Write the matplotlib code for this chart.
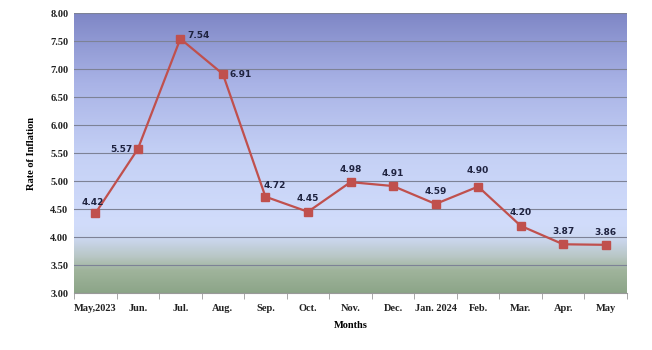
import numpy as np
import matplotlib.pyplot as plt
from matplotlib.colors import LinearSegmentedColormap

months = ['May,2023', 'Jun.', 'Jul.', 'Aug.', 'Sep.', 'Oct.', 'Nov.', 'Dec.',
          'Jan. 2024', 'Feb.', 'Mar.', 'Apr.', 'May']
inflation = [4.42, 5.57, 7.54, 6.91, 4.72, 4.45, 4.98, 4.91, 4.59, 4.90, 4.20, 3.87, 3.86]
# label placement per point: (dx, dy) in points, horizontal alignment
label_pos = [(-2, 5, 'center'), (-4, 0, 'right'), (5, 2, 'left'), (5, 0, 'left'),
             (-1, 5, 'left'), (0, 6, 'center'), (0, 6, 'center'), (0, 6, 'center'),
             (0, 6, 'center'), (0, 8, 'center'), (0, 6, 'center'), (0, 6, 'center'),
             (0, 6, 'center')]

fig = plt.figure(figsize=(6.52, 3.5), dpi=100)
ax = fig.add_axes([74 / 652, 1 - 293 / 350, 553 / 652, 280 / 350])

x = np.arange(len(months))
ax.set_xlim(-0.5, len(months) - 0.5)
ax.set_ylim(3.0, 8.0)

# vertical background gradient: purple-blue at top, pale blue, green band at bottom
bg = LinearSegmentedColormap.from_list('bg', [
    (0.0, '#8ca588'), (0.08, '#a0b49c'), (0.13, '#b9c7c6'),
    (0.2, '#cdd9f4'), (0.25, '#d1dcfb'), (0.5, '#c4d0f5'),
    (0.75, '#a9b3e6'), (1.0, '#7f87c6')])
grad = np.linspace(0, 1, 256).reshape(-1, 1)
ax.imshow(grad, cmap=bg, origin='lower', aspect='auto',
          extent=[-0.5, len(months) - 0.5, 3.0, 8.0], zorder=0)

ax.set_yticks(np.arange(3.0, 8.01, 0.5))
ax.yaxis.grid(True, color='#7d8296', linewidth=0.8, zorder=1)
ax.set_axisbelow(False)

ax.plot(x, inflation, color='#c0504d', linewidth=1.6, marker='s', markersize=5.5,
        markerfacecolor='#c0504d', markeredgecolor='#c0504d', zorder=3)

for xi, v, (dx, dy, ha) in zip(x, inflation, label_pos):
    ax.annotate(f'{v:.2f}', (xi, v), xytext=(dx, dy), textcoords='offset points',
                ha=ha, va='bottom' if dy > 2 else 'center', fontsize=6.5,
                fontweight='bold', color='#1f2340', family='DejaVu Sans', zorder=4)

ax.set_xticks(x)
ax.set_xticklabels(months)
ax.set_xticks(np.arange(-0.5, len(months), 1), minor=True)
ax.tick_params(axis='x', which='major', length=0, pad=8)
ax.tick_params(axis='x', which='minor', length=4, color='#999999')
ax.tick_params(axis='y', length=0, pad=4)
ax.set_yticklabels([f'{t:.2f}' for t in ax.get_yticks()])
for lbl in ax.get_xticklabels() + ax.get_yticklabels():
    lbl.set_family('Liberation Serif')
    lbl.set_fontweight('bold')
    lbl.set_fontsize(7.5)
    lbl.set_color('#222222')

for side in ['top', 'right', 'left']:
    ax.spines[side].set_visible(False)
ax.spines['bottom'].set_color('#999999')

ax.set_xlabel('Months', family='Liberation Serif', fontweight='bold', fontsize=7.5, labelpad=6)
ax.set_ylabel('Rate of Inflation', family='Liberation Serif', fontweight='bold',
              fontsize=7.5, labelpad=10)

fig.savefig('out.png', dpi=100)
